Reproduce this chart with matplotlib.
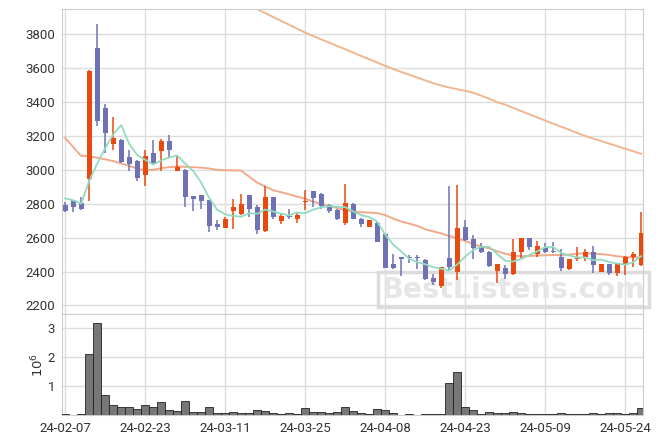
import numpy as np
import matplotlib
matplotlib.use('Agg')
import matplotlib.pyplot as plt

plt.rcParams['font.family'] = ['Roboto', 'DejaVu Sans']

# ---------------- datos ---------------- #
opens = [2791, 2821, 2805, 2944, 3720, 3363, 3150, 3179, 3073, 3050,
         2972, 3101, 3111, 3173, 2993, 2997, 2844, 2850, 2821, 2678,
         2658, 2758, 2737, 2850, 2778, 2639, 2837, 2699, 2727, 2711,
         2813, 2874, 2860, 2791, 2766, 2688, 2801, 2713, 2664, 2688,
         2621, 2443, 2484, 2486, 2486, 2468, 2363, 2316, 2478, 2400,
         2660, 2590, 2547, 2517, 2406, 2420, 2386, 2517, 2596, 2502,
         2547, 2519, 2488, 2414, 2474, 2484, 2514, 2400, 2443, 2394,
         2439, 2488, 2439]
highs = [2811, 2825, 2837, 3590, 3858, 3389, 3314, 3185, 3115, 3056,
         3115, 3177, 3183, 3203, 3085, 3005, 2848, 2852, 2825, 2703,
         2723, 2831, 2860, 2852, 2791, 2903, 2840, 2743, 2772, 2746,
         2884, 2876, 2862, 2801, 2772, 2919, 2805, 2715, 2705, 2692,
         2625, 2502, 2488, 2500, 2500, 2474, 2384, 2428, 2903, 2909,
         2707, 2615, 2570, 2520, 2447, 2439, 2590, 2598, 2598, 2582,
         2570, 2576, 2531, 2476, 2547, 2531, 2551, 2445, 2445, 2445,
         2490, 2517, 2752]
lows = [2749, 2749, 2766, 2817, 3257, 3101, 3118, 3040, 2991, 2937,
        2903, 3032, 2993, 3075, 2993, 2782, 2758, 2772, 2631, 2645,
        2655, 2649, 2735, 2723, 2621, 2635, 2711, 2678, 2708, 2684,
        2762, 2782, 2772, 2746, 2705, 2674, 2708, 2664, 2662, 2572,
        2418, 2414, 2375, 2453, 2414, 2352, 2322, 2302, 2410, 2351,
        2580, 2473, 2510, 2428, 2332, 2357, 2380, 2478, 2527, 2488,
        2512, 2512, 2406, 2410, 2464, 2464, 2394, 2398, 2382, 2376,
        2380, 2429, 2435]
closes = [2758, 2782, 2768, 3584, 3287, 3218, 3187, 3046, 3032, 2954,
          3079, 3042, 3173, 3115, 3017, 2840, 2829, 2819, 2670, 2660,
          2713, 2778, 2801, 2768, 2645, 2840, 2723, 2727, 2721, 2733,
          2817, 2834, 2787, 2760, 2711, 2807, 2711, 2678, 2703, 2576,
          2420, 2423, 2474, 2482, 2480, 2355, 2341, 2425, 2429, 2655,
          2586, 2541, 2517, 2433, 2443, 2386, 2514, 2596, 2547, 2551,
          2514, 2515, 2423, 2473, 2488, 2514, 2439, 2443, 2394, 2443,
          2488, 2502, 2629]
# volumen en millones
volumen = [0.02, 0.0, 0.02, 2.10, 3.15, 0.68, 0.33, 0.26, 0.26, 0.20,
           0.33, 0.26, 0.44, 0.17, 0.13, 0.48, 0.09, 0.09, 0.26, 0.06,
           0.06, 0.09, 0.06, 0.06, 0.16, 0.14, 0.06, 0.03, 0.06, 0.03,
           0.23, 0.09, 0.09, 0.06, 0.09, 0.26, 0.13, 0.06, 0.03, 0.20,
           0.17, 0.06, 0.0, 0.02, 0.0, 0.05, 0.02, 0.02, 1.10, 1.48,
           0.26, 0.16, 0.02, 0.09, 0.06, 0.06, 0.09, 0.06, 0.03, 0.03,
           0.02, 0.02, 0.06, 0.02, 0.02, 0.02, 0.06, 0.02, 0.06, 0.06,
           0.02, 0.06, 0.23]
ma5 = [2831, 2821, 2800, 2935, 3036, 3128, 3209, 3264, 3154, 3087,
       3060, 3031, 3056, 3073, 3085, 3037, 2995, 2924, 2835, 2764,
       2738, 2728, 2724, 2744, 2741, 2766, 2755, 2741, 2731, 2749,
       2744, 2766, 2778, 2786, 2782, 2780, 2755, 2733, 2722, 2695,
       2618, 2560, 2519, 2475, 2456, 2443, 2426, 2417, 2406, 2441,
       2487, 2527, 2546, 2546, 2504, 2464, 2459, 2474, 2497, 2519,
       2544, 2545, 2510, 2495, 2483, 2483, 2467, 2471, 2456, 2447,
       2441, 2454, 2491]
ma20 = [3188, 3135, 3082, 3080, 3072, 3062, 3052, 3038, 3024, 3008,
        2997, 3000, 3010, 3016, 3020, 3018, 3016, 3013, 3008, 3000,
        2998, 2997, 2996, 2960, 2925, 2902, 2880, 2868, 2856, 2842,
        2830, 2813, 2800, 2787, 2775, 2762, 2755, 2750, 2748, 2745,
        2733, 2713, 2695, 2683, 2670, 2650, 2637, 2625, 2610, 2596,
        2580, 2563, 2548, 2537, 2520, 2505, 2495, 2490, 2492, 2494,
        2496, 2497, 2498, 2500, 2505, 2508, 2506, 2503, 2498, 2490,
        2486, 2484, 2482]
# media larga, desde el indice 22 (antes queda fuera del grafico)
ma_larga = [3995, 3972, 3948, 3925, 3902, 3879, 3856, 3833,
            3810, 3790, 3770, 3751, 3731, 3712, 3692, 3672, 3653, 3633,
            3614, 3595, 3578, 3562, 3545, 3528, 3512, 3498, 3486, 3476,
            3467, 3455, 3438, 3420, 3400, 3385, 3366, 3347, 3328, 3310,
            3291, 3273, 3255, 3237, 3218, 3200, 3185, 3170, 3155, 3140,
            3125, 3110, 3095]
inicio_larga = 22

pos_fechas = [0, 10, 20, 30, 40, 50, 60, 70]
fechas = ['24-02-07', '24-02-23', '24-03-11', '24-03-25',
          '24-04-08', '24-04-23', '24-05-09', '24-05-24']

# ---------------- grafico ---------------- #
col_sube = '#E8490F'
col_baja = '#6E72B4'
col_grid = '#DDDDDD'

fig = plt.figure(figsize=(6.63, 4.44), dpi=100)
ax = fig.add_axes([0.0935, 0.293, 0.8765, 0.687])
axv = fig.add_axes([0.0935, 0.0653, 0.8765, 0.2275], sharex=ax)

x = np.arange(len(closes))
o = np.array(opens)
c = np.array(closes)
sube = c >= o
colores = np.where(sube, col_sube, col_baja)

ax.vlines(x, lows, highs, colors=colores, lw=1.1, zorder=3)
alto = np.maximum(np.abs(c - o), 5)
ax.bar(x, alto, bottom=np.minimum(o, c), width=0.62, color=colores, zorder=4)

ax.plot(x, ma5, color='#92DBC0', lw=1.3, zorder=5)
ax.plot(x, ma20, color='#F2A98A', lw=1.4, zorder=2)
ax.plot(x[inicio_larga:], ma_larga, color='#F0B68E', lw=1.4, zorder=2)

ax.set_xlim(-0.4, 72.25)
ax.set_ylim(2150, 3950)
ax.set_yticks(range(2200, 3801, 200))
ax.grid(True, color=col_grid, lw=1)
ax.set_axisbelow(True)
ax.tick_params(labelbottom=False, length=0, labelsize=9.5, pad=5, colors='#333333')

# marca de agua
ax.text(0.777, 0.08, 'BestListens.com', transform=ax.transAxes, ha='center', va='center',
        fontsize=20.5, fontweight='bold', color='#E6E6E6', zorder=1,
        family='DejaVu Sans',
        bbox=dict(boxstyle='square,pad=0.14', fc='none', ec='#DCDCDC', lw=2.5))

axv.bar(x, volumen, width=1.0, color='#777777', edgecolor='#222222', lw=0.6, zorder=3)
axv.set_ylim(0, 3.47)
axv.set_yticks([1, 2, 3])
axv.set_xticks(pos_fechas)
axv.set_xticklabels(fechas)
axv.grid(True, color=col_grid, lw=1)
axv.set_axisbelow(True)
axv.tick_params(length=0, labelsize=9.5, pad=5, colors='#333333')
axv.set_ylabel('$10^6$', fontsize=9.5, color='#333333', labelpad=1)

for a in (ax, axv):
    for s in a.spines.values():
        s.set_color('#CCCCCC')

plt.savefig('out.png', dpi=100)
